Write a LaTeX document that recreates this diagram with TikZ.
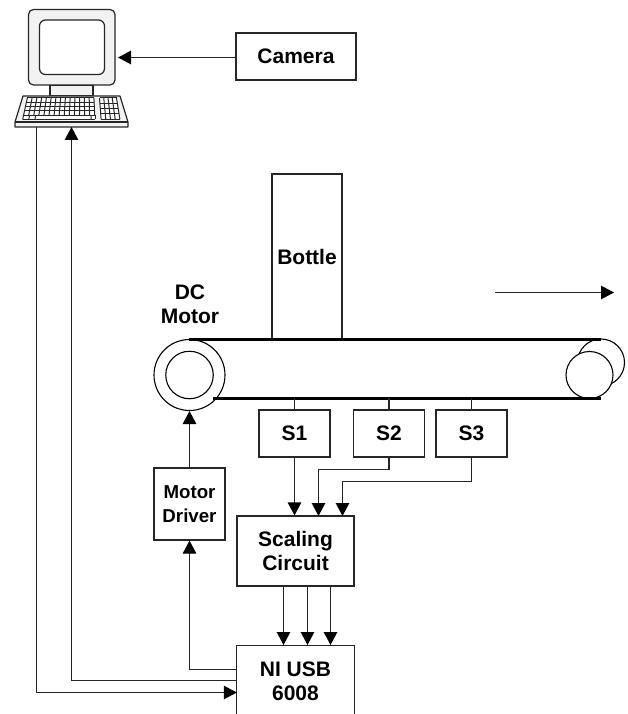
\documentclass[tikz,border=0pt]{standalone}
\usepackage{fontspec}
\setmainfont{Liberation Sans}
\usetikzlibrary{arrows.meta}
\tikzset{
 wire/.style={line width=1.2pt,black!85},
 arrowwire/.style={wire,-{Triangle[length=13pt,width=13.5pt,color=black]}},
 boldtext/.style={font=\fontsize{21}{24}\selectfont\bfseries,align=center,text=black},
 blockbox/.style={draw,line width=1.2pt,black!85,fill=white,inner sep=0pt,boldtext},
 smallbox/.style={blockbox,font=\fontsize{18.7}{24}\selectfont\bfseries},
 belt/.style={line width=3pt,black},
 pulley/.style={draw,circle,line width=1.1pt,inner sep=0pt,fill=white},
 pcpart/.style={draw,line width=1.2pt,black!85,fill=black!5},
 keyline/.style={line width=1pt,black!85},
}
\begin{document}
\begin{tikzpicture}[x=1pt,y=-1pt]
\useasboundingbox (0,0) rectangle (628,714);
% computer
\draw[pcpart] (50,85) rectangle (93,96);
\draw[pcpart,rounded corners=5pt] (28.5,9.5) rectangle (115,85);
\draw[line width=1.2pt,black!85,fill=white,rounded corners=6pt] (39.5,20) rectangle (104.5,74.5);
\draw[pcpart,line join=round] (23,96) -- (120,96) -- (128,122) -- (128,127) -- (15,127) -- (15,122) -- cycle;
\draw[line width=1.2pt,black!85] (15,122) -- (128,122);
% keys: main block
\fill[white] (27.3,98) -- (94,98) -- (95,119.5) -- (22.7,119.5) -- cycle;
\foreach \i in {0,...,5}{
  \pgfmathsetmacro{\yy}{98+\i*4.3}
  \pgfmathsetmacro{\xl}{27.3-\i*0.92}
  \pgfmathsetmacro{\xr}{94+\i*0.2}
  \draw[keyline] (\xl,\yy) -- (\xr,\yy);
}
\foreach \i in {0,...,14}{
  \pgfmathsetmacro{\xa}{27.3+\i*4.76}
  \pgfmathsetmacro{\xc}{23.6+\i*5.08}
  \draw[keyline] (\xa,98) -- (\xc,115.2);
}
\foreach \xa/\xb in {23.6/22.7,29.5/28.8,35.5/35,91/91.2,95/95}{\draw[keyline] (\xa,115.2) -- (\xb,119.5);}
% keypad
\fill[white] (100,98) -- (116,98) -- (120,119) -- (101,119) -- cycle;
\foreach \i in {0,...,4}{
  \pgfmathsetmacro{\yy}{98+\i*5.3}
  \pgfmathsetmacro{\xr}{116.5+\i*0.9}
  \pgfmathsetmacro{\xl}{99.5+\i*0.4}
  \draw[keyline] (\xl,\yy) -- (\xr,\yy);
}
\foreach \i in {0,...,4}{
  \pgfmathsetmacro{\xa}{99.5+\i*4.25}
  \pgfmathsetmacro{\xb}{101.1+\i*4.7}
  \draw[keyline] (\xa,98) -- (\xb,119.2);
}
\coordinate (scrport) at (118,57);
\coordinate (kbleft) at (36.5,127);
\coordinate (kbright) at (71.5,127);
% boxes
\node[blockbox,minimum width=120pt,minimum height=47pt] (camera) at (296,56.5) {Camera};
\node[blockbox,minimum width=70pt,minimum height=165pt] (bottle) at (307,256.5) {};
\node[boldtext] (bottletext) at (307,257) {Bottle};
\node[boldtext] (dctext) at (190,304) {DC\\Motor};
% pulleys
\draw[line width=1.1pt] (601,362.5) circle[radius=23.5];
\node[pulley,minimum size=47pt] (rfront) at (589.5,375) {};
\node[pulley,minimum size=71pt] (motor) at (189.5,375) {};
\node[pulley,minimum size=47.5pt] (motorin) at (189.5,375) {};
\coordinate (btl) at (189,339); \coordinate (btr) at (601,339);
\coordinate (bbl) at (213,398); \coordinate (bbr) at (601,398);
\draw[belt] (btl) -- (btr);
\draw[belt] (bbl) -- (bbr);
\coordinate (d1) at (495,292.5); \coordinate (d2) at (614,292.5);
\draw[arrowwire] (d1) -- (d2);
% sensors
\node[blockbox,minimum width=71pt,minimum height=47pt] (s1) at (294.5,433.5) {S1};
\node[blockbox,minimum width=71pt,minimum height=47pt] (s2) at (389,433.5) {S2};
\node[blockbox,minimum width=71pt,minimum height=47pt] (s3) at (471.5,433.5) {S3};
\node[smallbox,minimum width=71pt,minimum height=72pt] (driver) at (189.5,504) {Motor\\Driver};
\node[blockbox,minimum width=117pt,minimum height=70pt] (scale) at (295.5,551) {Scaling\\Circuit};
\node[draw=none,minimum width=117pt,minimum height=69pt,inner sep=0pt] (ni) at (295.5,680) {};
\draw[line width=1.2pt,black!85] (ni.south west) -- (ni.north west) -- (ni.north east) -- (ni.south east);
\node[boldtext] (nitext) at (295.5,681) {NI USB\\6008};
% connectors
\draw[arrowwire] (camera.west |- 0,57.5) -- (scrport |- 0,57.5);
\draw[arrowwire] (kbleft) |- (ni.west |- 0,692.5);
\draw[arrowwire] (ni.west |- 0,680.5) -| (kbright);
\draw[arrowwire] (ni.west |- 0,669.5) -| (driver.south);
\draw[arrowwire] (driver.north) -- (motor.south);
\draw[wire] (s1.north) -- (s1.north |- bbl);
\draw[wire] (s2.north) -- (s2.north |- bbl);
\draw[wire] (s3.north) -- (s3.north |- bbl);
\draw[arrowwire] (s1.south) -- (s1.south |- scale.north);
\draw[arrowwire] (s2.south) -- (389,469.5) -| (318.5,516);
\draw[arrowwire] (s3.south) -- (471.5,481.5) -| (342.5,516);
\draw[arrowwire] (283.5,586) -- (283.5,645);
\draw[arrowwire] (307.5,586) -- (307.5,645);
\draw[arrowwire] (330.5,586) -- (330.5,645);
\end{tikzpicture}
\end{document}
